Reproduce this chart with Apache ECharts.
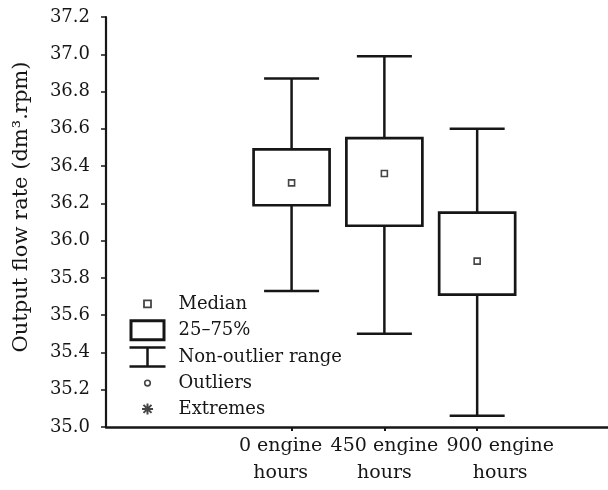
<!DOCTYPE html>
<html>
<head>
<meta charset="utf-8">
<script src="https://cdn.jsdelivr.net/npm/echarts@6/dist/echarts.min.js"></script>
<style>
  html, body { margin: 0; padding: 0; background: #fff; }
  #chart { width: 608px; height: 490px; }
</style>
</head>
<body>
<div id="chart"></div>
<script>
// values
var categories = ['0 engine\nhours', '450 engine\nhours', '900 engine\nhours'];
var lows    = [35.73, 35.50, 35.06];
var q1s     = [36.19, 36.08, 35.71];
var medians = [36.31, 36.36, 35.89];
var q3s     = [36.49, 36.55, 36.15];
var highs   = [36.87, 36.99, 36.60];

// categories sit at x = 2, 3, 4 of a value axis
var xPos = categories.map(function (c, i) { return i + 2; });
var xMax = 5.41;

var ink = '#161616';
var font = 'DejaVu Serif';
var boxW = 76, capW = 55;

var whiskerData = xPos.map(function (x, i) { return [x, lows[i], q1s[i], q3s[i], highs[i]]; });
var boxData = xPos.map(function (x, i) { return [x, q1s[i], q3s[i]]; });
var medianData = xPos.map(function (x, i) { return [x, medians[i]]; });

var dom = document.getElementById('chart');
var myChart = echarts.init(dom);

var option = {
    animation: false,
    grid: { left: 106, right: 0, top: 17, bottom: 63, outerBoundsMode: 'none' },
    legend: {
        orient: 'vertical',
        left: 128,
        top: 292,
        padding: 0,
        itemWidth: 36,
        itemHeight: 22,
        itemGap: 2,
        selectedMode: false,
        textStyle: { fontFamily: font, fontSize: 18, lineHeight: 22, color: ink, padding: [0, 0, 0, 8] },
        data: [
            { name: 'Median', icon: 'path://M0 0M36 22M14.5 7.5H21.5V14.5H14.5Z',
              itemStyle: { color: '#fff', borderColor: ink, borderWidth: 1.8 } },
            { name: '25–75%', icon: 'path://M0 0M36 22M1.5 1.5H34.5V20.5H1.5Z',
              itemStyle: { color: '#fff', borderColor: ink, borderWidth: 3 } },
            { name: 'Non-outlier range', icon: 'path://M0 0M36 22M0 1.5H36M18 1.5V20.5M0 20.5H36',
              itemStyle: { color: 'transparent', borderColor: ink, borderWidth: 2.5 } },
            { name: 'Outliers', icon: 'path://M0 0M36 22M20.8 11A2.8 2.8 0 1 1 15.2 11A2.8 2.8 0 1 1 20.8 11Z',
              itemStyle: { color: '#fff', borderColor: ink, borderWidth: 1.6 } },
            { name: 'Extremes', icon: 'path://M0 0M36 22M18 5.5V16.5M12.5 11H23.5M14 7L22 15M22 7L14 15',
              itemStyle: { color: 'transparent', borderColor: ink, borderWidth: 2 } }
        ]
    },
    xAxis: {
        type: 'value',
        min: 0,
        max: xMax,
        splitLine: { show: false },
        axisLine: { show: true, onZero: false, lineStyle: { color: ink, width: 2.5 } },
        axisTick: { show: true, customValues: xPos, length: 4, lineStyle: { color: ink, width: 2 } },
        axisLabel: {
            // empty labels at both ends keep the three real ones out of the min/max overlap check
            customValues: [0].concat(xPos, [xMax]),
            hideOverlap: false,
            margin: 6,
            formatter: function (v) {
                var i = xPos.indexOf(Number(v));
                if (i < 0) return '';
                var parts = categories[i].split('\n');
                return '{c' + i + '|' + parts[0] + '}\n{c' + i + '|' + parts[1] + '}';
            },
            rich: {
                c0: { fontFamily: font, fontSize: 19, color: ink, lineHeight: 27, padding: [0, 22, 0, 0] },
                c1: { fontFamily: font, fontSize: 19, color: ink, lineHeight: 27 },
                c2: { fontFamily: font, fontSize: 19, color: ink, lineHeight: 27, padding: [0, 0, 0, 46] }
            }
        }
    },
    yAxis: {
        type: 'value',
        min: 35,
        max: 37.2,
        interval: 0.2,
        name: 'Output flow rate (dm³.rpm)',
        nameLocation: 'middle',
        nameGap: 74,
        nameTextStyle: { fontFamily: font, fontSize: 21, color: ink, padding: [0, 0, 0, 30] },
        splitLine: { show: false },
        axisLine: { show: true, onZero: false, lineStyle: { color: ink, width: 2.2 } },
        axisTick: { show: true, length: 5, lineStyle: { color: ink, width: 1.5 } },
        axisLabel: {
            margin: 16,
            fontFamily: font,
            fontSize: 18,
            color: ink,
            formatter: function (v) { return v.toFixed(1); }
        }
    },
    series: [
        {
            name: 'Non-outlier range',
            type: 'custom',
            data: whiskerData,
            encode: { x: 0, y: [1, 2, 3, 4] },
            renderItem: function (params, api) {
                var x = api.value(0);
                var lo = api.coord([x, api.value(1)]);
                var b1 = api.coord([x, api.value(2)]);
                var b3 = api.coord([x, api.value(3)]);
                var hi = api.coord([x, api.value(4)]);
                var st = { stroke: ink, lineWidth: 2.5, fill: null };
                var h = capW / 2;
                return {
                    type: 'group',
                    children: [
                        { type: 'line', shape: { x1: hi[0], y1: hi[1], x2: b3[0], y2: b3[1] }, style: st },
                        { type: 'line', shape: { x1: b1[0], y1: b1[1], x2: lo[0], y2: lo[1] }, style: st },
                        { type: 'line', shape: { x1: hi[0] - h, y1: hi[1], x2: hi[0] + h, y2: hi[1] }, style: st },
                        { type: 'line', shape: { x1: lo[0] - h, y1: lo[1], x2: lo[0] + h, y2: lo[1] }, style: st }
                    ]
                };
            }
        },
        {
            name: '25–75%',
            type: 'custom',
            data: boxData,
            encode: { x: 0, y: [1, 2] },
            renderItem: function (params, api) {
                var x = api.value(0);
                var b1 = api.coord([x, api.value(1)]);
                var b3 = api.coord([x, api.value(2)]);
                return {
                    type: 'rect',
                    shape: { x: b3[0] - boxW / 2, y: b3[1], width: boxW, height: b1[1] - b3[1] },
                    style: { fill: 'none', stroke: ink, lineWidth: 2.7 }
                };
            }
        },
        {
            name: 'Median',
            type: 'scatter',
            data: medianData,
            symbol: 'rect',
            symbolSize: 6,
            itemStyle: { color: '#fff', borderColor: ink, borderWidth: 1.6 }
        },
        { name: 'Outliers', type: 'scatter', data: [] },
        { name: 'Extremes', type: 'scatter', data: [] }
    ]
};

myChart.setOption(option);
</script>
</body>
</html>
